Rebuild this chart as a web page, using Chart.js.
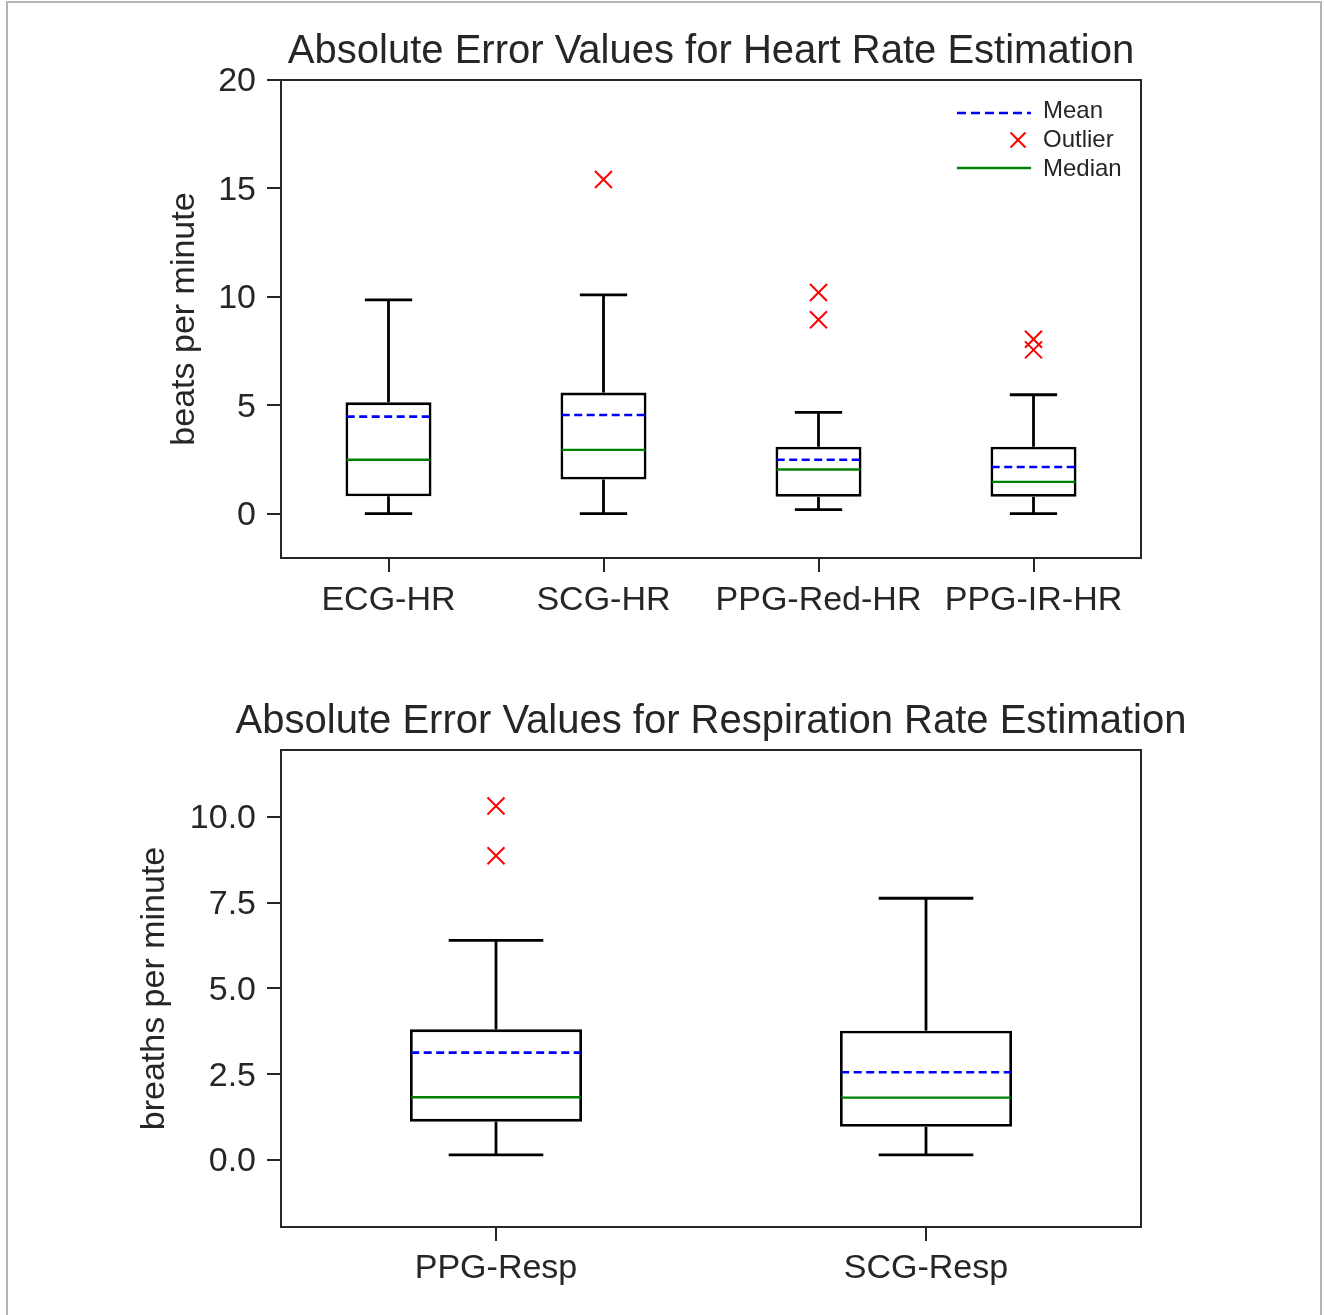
<!DOCTYPE html>
<html>
<head>
<meta charset="utf-8">
<script src="https://cdn.jsdelivr.net/npm/chart.js@4.4.1/dist/chart.umd.min.js"></script>
<style>
body{margin:0;background:#fff;overflow:hidden;width:1324px;height:1315px;position:relative}
#frame{position:absolute;left:6px;top:1px;width:1316px;height:1340px;border:2px solid #b4b4b4;border-bottom:none;box-sizing:border-box}
#hr{position:absolute;left:0;top:0}
#rr{position:absolute;left:0;top:670px}
</style>
</head>
<body>
<div id="frame"></div>
<canvas id="hr" width="1422" height="660"></canvas>
<canvas id="rr" width="1422" height="645"></canvas>
<script>
// heart rate
const hrLabels = ['ECG-HR', 'SCG-HR', 'PPG-Red-HR', 'PPG-IR-HR']
const hrLow = [0, 0, 0.18, 0]
const hrQ1 = [0.80, 1.57, 0.77, 0.77]
const hrMedian = [2.48, 2.94, 2.03, 1.46]
const hrMean = [4.47, 4.55, 2.48, 2.15]
const hrQ3 = [5.13, 5.58, 3.08, 3.08]
const hrHigh = [9.86, 10.09, 4.67, 5.48]
const hrOutliers = [[], [15.41], [10.2, 8.94], [8.04, 7.55]]
const hrTicks = [0, 5, 10, 15, 20]

// respiration rate
const rrLabels = ['PPG-Resp', 'SCG-Resp']
const rrLow = [0.15, 0.15]
const rrQ1 = [1.12, 0.97]
const rrMedian = [1.83, 1.82]
const rrMean = [3.13, 2.56]
const rrQ3 = [3.81, 3.77]
const rrHigh = [6.40, 7.63]
const rrOutliers = [[10.32, 8.87], []]
const rrTicks = [0, 2.5, 5, 7.5, 10]

const ink = '#262626'
Chart.defaults.font.family = "'Liberation Sans', Arial, sans-serif"
Chart.defaults.color = ink

function line(ctx, x1, y1, x2, y2) {
    ctx.beginPath()
    ctx.moveTo(x1, y1)
    ctx.lineTo(x2, y2)
    ctx.stroke()
}

function boxExtras(s, withLegend) {
    return {
        id: 'boxExtras',
        beforeDatasetsDraw(chart) {
            const ctx = chart.ctx, x = chart.scales.x, y = chart.scales.y
            const bars = chart.getDatasetMeta(0).data
            ctx.save()
            ctx.strokeStyle = '#000'
            ctx.lineWidth = 2.8
            s.labels.forEach((l, i) => {
                const px = x.getPixelForValue(i)
                const cap = bars[i].width * 0.275
                line(ctx, px, y.getPixelForValue(s.q3[i]), px, y.getPixelForValue(s.high[i]))
                line(ctx, px - cap, y.getPixelForValue(s.high[i]), px + cap, y.getPixelForValue(s.high[i]))
                line(ctx, px, y.getPixelForValue(s.q1[i]), px, y.getPixelForValue(s.low[i]))
                line(ctx, px - cap, y.getPixelForValue(s.low[i]), px + cap, y.getPixelForValue(s.low[i]))
            })
            ctx.restore()
        },
        afterDatasetsDraw(chart) {
            const ctx = chart.ctx, x = chart.scales.x, y = chart.scales.y
            const bars = chart.getDatasetMeta(0).data
            ctx.save()
            s.labels.forEach((l, i) => {
                const px = x.getPixelForValue(i)
                const half = bars[i].width / 2 - 1.2
                ctx.strokeStyle = '#008000'
                ctx.lineWidth = 2.4
                ctx.setLineDash([])
                line(ctx, px - half, y.getPixelForValue(s.median[i]), px + half, y.getPixelForValue(s.median[i]))
                ctx.strokeStyle = '#0000ff'
                ctx.lineWidth = 2.6
                ctx.setLineDash([8, 4.5])
                line(ctx, px - half, y.getPixelForValue(s.mean[i]), px + half, y.getPixelForValue(s.mean[i]))
            })
            ctx.restore()
        },
        afterDraw(chart) {
            const ctx = chart.ctx, a = chart.chartArea
            ctx.save()
            ctx.strokeStyle = ink
            ctx.lineWidth = 2
            ctx.strokeRect(a.left, a.top, a.right - a.left, a.bottom - a.top)
            if (withLegend) {
                const x1 = a.right - 184, x2 = a.right - 110, tx = a.right - 98
                ctx.lineWidth = 2.6
                ctx.strokeStyle = '#0000ff'
                ctx.setLineDash([9, 5])
                line(ctx, x1, a.top + 33, x2, a.top + 33)
                ctx.setLineDash([])
                ctx.strokeStyle = '#ff0000'
                ctx.lineWidth = 2
                const cx = a.right - 123, cy = a.top + 60
                line(ctx, cx - 7.5, cy - 7.5, cx + 7.5, cy + 7.5)
                line(ctx, cx - 7.5, cy + 7.5, cx + 7.5, cy - 7.5)
                ctx.strokeStyle = '#008000'
                ctx.lineWidth = 2.6
                line(ctx, x1, a.top + 88, x2, a.top + 88)
                ctx.fillStyle = ink
                ctx.font = "24px 'Liberation Sans', Arial, sans-serif"
                ctx.textBaseline = 'middle'
                ctx.fillText('Mean', tx, a.top + 31)
                ctx.fillText('Outlier', tx, a.top + 60)
                ctx.fillText('Median', tx, a.top + 89)
            }
            ctx.restore()
        }
    }
}

function addBoxChart(id, s) {
    const outlierPoints = s.labels.flatMap((l, i) => s.outliers[i].map(v => ({x: l, y: v})))
    new Chart(id, {
        type: 'bar',
        data: {
            labels: s.labels,
            datasets: [{
                data: s.labels.map((l, i) => [s.q1[i], s.q3[i]]),
                backgroundColor: '#ffffff',
                borderColor: '#000000',
                borderWidth: 2.8,
                borderSkipped: false,
                barPercentage: 0.4,
                categoryPercentage: 1.0
            }, {
                type: 'line',
                data: outlierPoints,
                showLine: false,
                pointStyle: 'crossRot',
                pointRadius: 12,
                pointBorderColor: '#ff0000',
                pointBorderWidth: 2
            }]
        },
        options: {
            responsive: false,
            animation: false,
            layout: { padding: 0 },
            plugins: {
                legend: { display: false },
                tooltip: { enabled: false },
                title: {
                    display: true,
                    text: s.title,
                    color: ink,
                    font: { size: 40, weight: 'normal' },
                    padding: { top: 28, bottom: 4 }
                }
            },
            scales: {
                x: {
                    offset: true,
                    grid: { offset: false, drawOnChartArea: false, tickLength: 14, color: ink, lineWidth: 2 },
                    border: { color: ink, width: 2 },
                    ticks: { font: { size: 34 }, padding: s.xPad, color: ink, maxRotation: 0, autoSkip: false },
                    afterFit(scale) { scale.height = s.xHeight }
                },
                y: {
                    min: s.min,
                    max: s.max,
                    afterBuildTicks(scale) { scale.ticks = s.ticks.map(v => ({value: v})) },
                    grid: { drawOnChartArea: false, tickLength: 14, color: ink, lineWidth: 2 },
                    border: { color: ink, width: 2 },
                    ticks: { font: { size: 34 }, padding: 11, color: ink, labelOffset: 2, callback: s.fmt },
                    title: {
                        display: true,
                        text: s.yTitle,
                        color: ink,
                        font: { size: 34 },
                        padding: { top: s.titlePad, bottom: 0 }
                    },
                    afterFit(scale) { scale.width = 281 }
                },
                pad: {
                    type: 'linear',
                    position: 'right',
                    grid: { display: false },
                    border: { display: false },
                    ticks: { display: false },
                    afterFit(scale) { scale.width = 281 }
                }
            }
        },
        plugins: [boxExtras(s, s.legend)]
    })
}

addBoxChart('hr', {
    title: 'Absolute Error Values for Heart Rate Estimation',
    yTitle: 'beats per minute',
    labels: hrLabels, low: hrLow, q1: hrQ1, median: hrMedian, mean: hrMean,
    q3: hrQ3, high: hrHigh, outliers: hrOutliers, ticks: hrTicks,
    min: -2.05, max: 20, fmt: v => String(v),
    xHeight: 102, xPad: 8, titlePad: 164, legend: true
})

addBoxChart('rr', {
    title: 'Absolute Error Values for Respiration Rate Estimation',
    yTitle: 'breaths per minute',
    labels: rrLabels, low: rrLow, q1: rrQ1, median: rrMedian, mean: rrMean,
    q3: rrQ3, high: rrHigh, outliers: rrOutliers, ticks: rrTicks,
    min: -1.95, max: 11.95, fmt: v => v.toFixed(1),
    xHeight: 88, xPad: 7, titlePad: 134, legend: false
})
</script>
</body>
</html>
